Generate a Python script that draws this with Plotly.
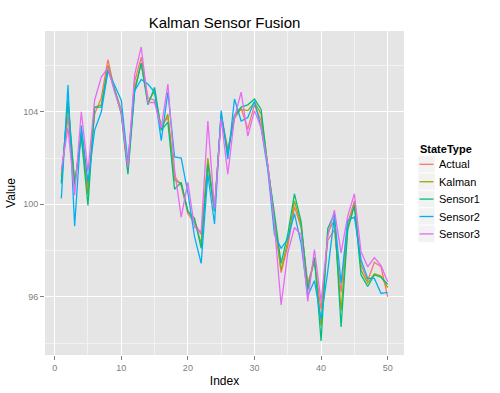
import plotly.graph_objects as go

index = list(range(1, 51))
actual = [101.2, 103.8, 100.8, 103.1, 100.7, 103.9, 104.6, 106.25, 104.95, 104.1,
          101.7, 105.3, 106.35, 104.6, 104.5, 103.4, 103.75, 101.2, 100.8, 99.6,
          99.2, 98.7, 101.8, 99.7, 103.85, 102.4, 103.7, 104.15, 103.25, 104.3,
          103.6, 101.7, 99.3, 97.05, 98.2, 99.9, 99.0, 96.6, 97.5, 95.45,
          98.45, 98.9, 96.2, 99.2, 100.15, 97.4, 96.7, 97.5, 97.3, 96.0]
kalman = [101.0, 104.4, 100.9, 103.0, 100.4, 104.2, 104.3, 106.0, 104.95, 104.0,
          101.4, 105.0, 106.1, 104.4, 104.9, 103.25, 103.9, 101.05, 100.9, 99.7,
          99.3, 98.3, 102.0, 99.8, 103.8, 102.3, 103.85, 104.1, 104.05, 104.4,
          103.9, 101.6, 99.5, 97.15, 98.4, 100.15, 99.1, 96.4, 97.7, 94.75,
          98.8, 99.3, 95.4, 99.0, 100.0, 97.15, 96.6, 97.0, 96.9, 96.4]
sensor1 = [100.9, 104.5, 100.9, 102.95, 99.95, 104.2, 104.2, 105.85, 104.95, 103.9,
           101.3, 104.85, 106.1, 104.3, 105.05, 103.2, 103.55, 100.65, 100.95, 99.7,
           99.4, 98.1, 101.75, 99.7, 103.9, 102.15, 103.85, 104.2, 104.3, 104.55,
           104.1, 101.6, 99.6, 97.45, 98.7, 100.45, 99.25, 96.3, 97.7, 94.1,
           98.95, 99.6, 94.7, 98.9, 99.95, 96.95, 96.45, 96.95, 96.85, 96.55]
sensor2 = [100.25, 105.15, 99.05, 103.4, 100.95, 103.2, 104.0, 105.75, 105.15, 104.5,
           101.8, 104.9, 105.4, 105.2, 104.85, 102.75, 104.85, 102.05, 102.0, 100.5,
           98.6, 97.45, 101.3, 99.15, 104.05, 101.95, 104.55, 103.6, 103.75, 104.45,
           103.3, 101.5, 98.7, 98.1, 98.5, 99.6, 98.3, 96.05, 96.7, 95.05,
           97.1, 99.5, 96.6, 99.3, 99.45, 97.6, 96.8, 96.8, 96.15, 96.2]
sensor3 = [101.5, 103.3, 100.4, 104.0, 101.4, 104.5, 105.5, 105.9, 104.85, 104.0,
           101.6, 105.6, 106.8, 104.4, 104.4, 103.3, 105.2, 101.5, 99.45, 100.95,
           99.0, 98.8, 103.6, 99.8, 103.7, 101.3, 103.75, 104.85, 102.95, 104.05,
           103.3, 101.7, 99.1, 95.65, 97.9, 99.0, 98.7, 95.8, 98.05, 95.8,
           98.6, 99.75, 97.9, 99.5, 100.45, 97.95, 97.3, 97.7, 97.35, 96.65]

series_names = ["Actual", "Kalman", "Sensor1", "Sensor2", "Sensor3"]
series_values = [actual, kalman, sensor1, sensor2, sensor3]
colors = ["#F8766D", "#A3A500", "#00BF7D", "#00B0F6", "#E76BF3"]
legend_title = "StateType"

x_ticks = [0, 10, 20, 30, 40, 50]
y_ticks = [96, 100, 104]

W, H = 500, 393
ML, MR, MT, MB = 45, 96, 31, 38
PW, PH = W - ML - MR, H - MT - MB

fig = go.Figure()
for name, vals, c in zip(series_names, series_values, colors):
    fig.add_trace(go.Scatter(x=index, y=vals, mode="lines", name=name,
                             line=dict(color=c, width=1.3), showlegend=False))

font = "Liberation Sans, Arial, sans-serif"


def px(xp):
    return (xp - ML) / PW


def py(yp):
    return (H - MB - yp) / PH


# ggplot-style legend
shapes = []
annotations = [dict(text="<b>%s</b>" % legend_title, xref="paper", yref="paper",
                    x=px(418), y=py(149), xanchor="left", yanchor="middle",
                    showarrow=False, font=dict(size=11, color="black"))]
key_left, key_w, key_h, row0, row_step = 418, 17, 17.4, 164.3, 17.4
for i, (name, c) in enumerate(zip(series_names, colors)):
    cy = row0 + i * row_step
    shapes.append(dict(type="rect", xref="paper", yref="paper",
                       x0=px(key_left), x1=px(key_left + key_w),
                       y0=py(cy + key_h / 2), y1=py(cy - key_h / 2),
                       fillcolor="#F2F2F2", line=dict(color="white", width=0.8),
                       layer="above"))
    shapes.append(dict(type="line", xref="paper", yref="paper",
                       x0=px(key_left + 1.5), x1=px(key_left + key_w - 1.5),
                       y0=py(cy), y1=py(cy),
                       line=dict(color=c, width=1.3), layer="above"))
    annotations.append(dict(text=name, xref="paper", yref="paper",
                            x=px(437), y=py(cy), xanchor="left", yanchor="middle",
                            showarrow=False, font=dict(size=11, color="black")))

fig.update_layout(
    width=W, height=H,
    margin=dict(l=ML, r=MR, t=MT, b=MB),
    paper_bgcolor="white",
    plot_bgcolor="#E5E5E5",
    font=dict(family=font, color="black"),
    title=dict(text="Kalman Sensor Fusion", x=(ML + W - MR) / 2 / W, xanchor="center",
               y=1 - 23 / H, yanchor="middle", font=dict(size=15, color="black")),
    showlegend=False,
    shapes=shapes,
    annotations=annotations,
)
fig.update_xaxes(
    range=[-1.45, 52.45], tickvals=x_ticks, ticktext=[str(v) for v in x_ticks],
    showgrid=True, gridcolor="white", gridwidth=1.2, zeroline=False,
    minor=dict(dtick=5, tick0=5, showgrid=True, gridcolor="#F2F2F2", gridwidth=0.6),
    ticks="outside", ticklen=4, tickcolor="#7F7F7F", tickwidth=1,
    tickfont=dict(size=9, color="#7F7F7F"),
    title=dict(text="Index", font=dict(size=12), standoff=4),
    showline=False, automargin=False,
)
fig.update_yaxes(
    range=[93.49, 107.49], tickvals=y_ticks, ticktext=[str(v) for v in y_ticks],
    showgrid=True, gridcolor="white", gridwidth=1.2, zeroline=False,
    minor=dict(dtick=2, tick0=94, showgrid=True, gridcolor="#F2F2F2", gridwidth=0.6),
    ticks="outside", ticklen=4, tickcolor="#7F7F7F", tickwidth=1,
    tickfont=dict(size=9, color="#7F7F7F"),
    title=dict(text="Value", font=dict(size=12), standoff=4),
    showline=False, automargin=False,
)
fig.write_html("out.html")
